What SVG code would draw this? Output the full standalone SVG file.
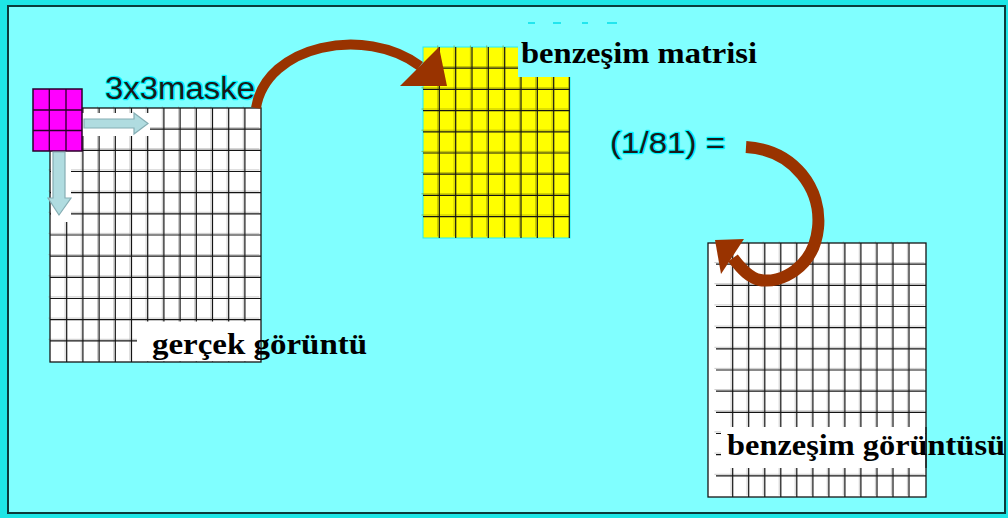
<svg xmlns="http://www.w3.org/2000/svg" width="1008" height="518" viewBox="0 0 1008 518">
<style>
.ln{fill:none;stroke:#141414;stroke-width:1.2}
.sh{fill:none;stroke:#a0a0a0;stroke-width:1;opacity:.55}
.shy{fill:none;stroke:#8a8a00;stroke-width:1;opacity:.55}
.brd{fill:none;stroke:#141414;stroke-width:1.3}
.lbl{font-family:"Liberation Serif","Times New Roman",serif;font-weight:bold;font-size:29px;fill:#000}
.sans{font-family:"Liberation Sans",Arial,sans-serif;font-size:31px;fill:#1a1a1a;stroke:#00F4FF;stroke-width:2.4;paint-order:stroke;stroke-linejoin:round}
.brown{fill:none;stroke:#993300}
.head{fill:#993300}
.blue{fill:#B0DCE0;stroke:#86AEB4;stroke-width:1.2}
</style>
<rect x="0" y="0" width="1008" height="518" fill="#1EE6E6"/>
<rect id="frame" x="8" y="6" width="997" height="507" fill="#80FFFF" stroke="#0B3B3B" stroke-width="2"/>
<g fill="#22E6EE">
<rect x="528" y="22" width="7" height="2"/><rect x="553" y="22" width="8" height="2"/><rect x="582" y="22" width="6" height="2"/><rect x="607" y="22" width="10" height="2"/>
</g>

<g id="node-original">
<rect x="50" y="108" width="211" height="254" fill="#fff"/>
<path class="sh" transform="translate(-1.6,-1.6)" d="M66.7 108V362M82.9 108V362M99.1 108V362M115.3 108V362M131.5 108V362M147.7 108V362M163.9 108V362M180.1 108V362M196.3 108V362M212.5 108V362M228.7 108V362M244.9 108V362M50 129.2H261M50 150.3H261M50 171.5H261M50 192.7H261M50 213.9H261M50 235H261M50 256.2H261M50 277.4H261M50 298.5H261M50 319.7H261M50 340.9H261"/>
<path class="ln" d="M66.7 108V362M82.9 108V362M99.1 108V362M115.3 108V362M131.5 108V362M147.7 108V362M163.9 108V362M180.1 108V362M196.3 108V362M212.5 108V362M228.7 108V362M244.9 108V362M50 129.2H261M50 150.3H261M50 171.5H261M50 192.7H261M50 213.9H261M50 235H261M50 256.2H261M50 277.4H261M50 298.5H261M50 319.7H261M50 340.9H261"/>
<rect x="51" y="113" width="99" height="23" fill="#fff"/>
<rect x="51" y="113" width="20" height="109" fill="#fff"/>
<rect x="137" y="321.5" width="123.5" height="40" fill="#fff"/>
<rect class="brd" x="50" y="108" width="211" height="254"/>
<text class="lbl" x="152" y="354" textLength="215" lengthAdjust="spacingAndGlyphs">gerçek görüntü</text>
</g>

<g id="node-mask">
<rect x="33" y="89" width="49" height="62" fill="#FF00FF" stroke="#2a002a" stroke-width="1.5"/>
<path d="M49.3 89V151M66 89V151M33 110H82M33 130.5H82" fill="none" stroke="#2a002a" stroke-width="1.3"/>
</g>

<g id="node-matrix">
<rect x="423" y="47" width="147" height="191" fill="#FFFF00" stroke="#20F0F8" stroke-width="1"/>
<path class="shy" transform="translate(-1.6,-1.6)" d="M439.3 47V238M455.7 47V238M472 47V238M488.3 47V238M504.7 47V238M521 47V238M537.3 47V238M553.7 47V238M423 68.2H570M423 89.4H570M423 110.6H570M423 131.8H570M423 153H570M423 174.2H570M423 195.4H570M423 216.6H570"/>
<path class="ln" d="M439.3 47V238M455.7 47V238M472 47V238M488.3 47V238M504.7 47V238M521 47V238M537.3 47V238M553.7 47V238M569.3 47V238M423 68.2H570M423 89.4H570M423 110.6H570M423 131.8H570M423 153H570M423 174.2H570M423 195.4H570M423 216.6H570"/>
<rect x="518" y="40" width="246" height="37" fill="#80FFFF"/>
<text class="lbl" x="521" y="63" textLength="236" lengthAdjust="spacingAndGlyphs">benzeşim matrisi</text>
</g>

<g id="node-result">
<rect x="708" y="243" width="218" height="254" fill="#fff"/>
<path class="sh" transform="translate(-1.6,-1.6)" d="M732.7 243V497M748.7 243V497M764.8 243V497M780.8 243V497M796.8 243V497M812.9 243V497M828.9 243V497M844.9 243V497M860.9 243V497M877 243V497M893 243V497M909 243V497M716 264.2H926M716 285.3H926M716 306.5H926M716 327.7H926M716 348.9H926M716 370H926M716 391.2H926M716 412.4H926M716 433.5H926M716 454.7H926M716 475.9H926"/>
<path class="ln" d="M732.7 243V497M748.7 243V497M764.8 243V497M780.8 243V497M796.8 243V497M812.9 243V497M828.9 243V497M844.9 243V497M860.9 243V497M877 243V497M893 243V497M909 243V497M716 264.2H926M716 285.3H926M716 306.5H926M716 327.7H926M716 348.9H926M716 370H926M716 391.2H926M716 412.4H926M716 433.5H926M716 454.7H926M716 475.9H926"/>
<rect x="721" y="427" width="204.5" height="41" fill="#fff"/>
<rect class="brd" x="708" y="243" width="218" height="254"/>
<text class="lbl" x="727" y="455" textLength="278" lengthAdjust="spacingAndGlyphs">benzeşim görüntüsü</text>
<path class="ln" d="M926 427V468"/>
</g>

<g id="labels">
<text class="sans" x="105" y="99" textLength="150" lengthAdjust="spacingAndGlyphs">3x3maske</text>
<text class="sans" x="610" y="153" textLength="115" lengthAdjust="spacingAndGlyphs" style="font-size:30px">(1/81) =</text>
</g>

<g id="connectors">
<polygon class="blue" points="84,119 134,119 134,113 148,123.5 134,134 134,128 84,128"/>
<polygon class="blue" points="53,152 65,152 65,198 71,198 59,215 48,198 53,198"/>
<path class="brown" stroke-width="10" d="M256 108C266 45 365 25 420 66"/>
<polygon class="head" points="400,86 439,47 447,86"/>
<path class="brown" stroke-width="12" d="M746 147C795 150 822 190 818 228C814 268 780 284 760 280C750 278 742 270 733 258"/>
<polygon class="head" points="715,240 744,239 721,274"/>
</g>
</svg>
